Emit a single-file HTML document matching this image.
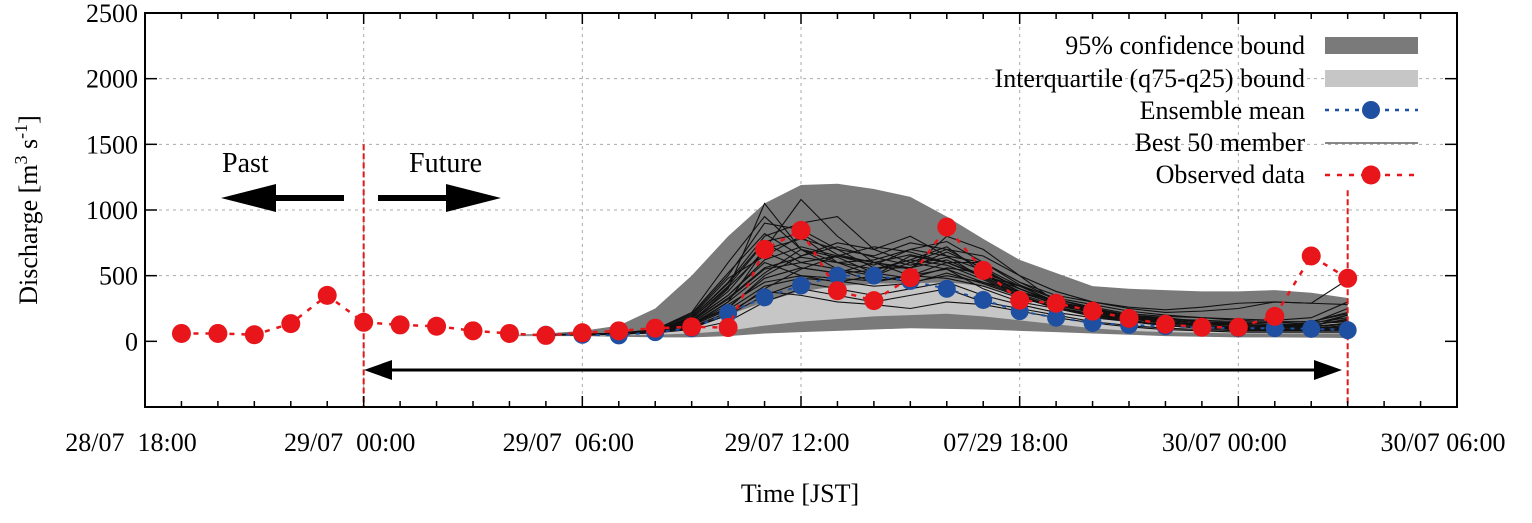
<!DOCTYPE html>
<html><head><meta charset="utf-8"><style>
body{margin:0;background:#fff;}
svg, text{font-family:"Liberation Serif","DejaVu Serif","Times New Roman",serif;}
</style></head><body>
<svg id="chart" width="1532" height="518" viewBox="0 0 1532 518"></svg>
<script>
const hours=[29,30,31,32,33,34,35,36,37,38,39,40,41,42,43,44,45,46,47,48,49,50,51];
const bandHours=[28,29,30,31,32,33,34,35,36,37,38,39,40,41,42,43,44,45,46,47,48,49,50,51];
const upper95=[50,60,80,120,250,500,800,1050,1190,1200,1160,1100,950,780,620,520,420,400,390,380,380,390,370,330];
const lower95=[40,40,40,35,30,30,40,60,70,80,90,100,95,90,80,70,60,50,40,35,30,30,28,25];
const upperIQ=[50,50,55,60,70,100,200,300,380,420,440,440,450,420,350,280,220,180,160,150,140,140,145,140];
const lowerIQ=[45,45,45,45,50,60,80,120,150,170,190,200,210,190,160,130,100,80,70,65,60,60,60,60];
const members=[
[50,55,60,80,150,400,1050,700,600,500,650,600,500,400,300,250,200,180,150,140,130,130,150],
[50,50,55,70,120,300,700,1080,800,600,500,550,450,350,250,200,170,150,130,120,110,120,130],
[50,50,60,90,200,500,900,850,700,650,750,700,550,400,300,220,180,150,120,110,100,100,110],
[50,52,58,75,130,250,500,650,750,700,800,650,600,450,350,300,250,220,230,250,300,290,470],
[48,50,55,65,100,200,400,550,650,600,550,800,700,500,300,250,180,140,120,100,90,90,100],
[50,55,60,80,160,350,600,500,450,500,600,550,400,300,250,200,150,130,110,100,100,110,200],
[50,50,55,70,110,200,350,450,400,350,400,450,350,280,220,180,150,120,100,90,80,90,90],
[50,52,55,65,90,150,300,400,350,300,350,400,300,250,200,150,120,100,90,80,80,80,80],
[50,50,60,85,180,450,800,900,950,700,600,700,650,500,380,300,260,240,260,290,300,290,280],
[50,55,62,90,220,600,950,700,550,450,500,600,600,450,320,260,210,190,180,170,160,180,300],
[48,50,55,70,140,320,550,600,550,500,450,500,450,380,300,240,200,170,150,130,120,130,200],
[50,50,58,72,120,280,450,500,480,460,500,480,420,330,260,210,170,140,120,110,100,110,130],
[50,52,60,80,170,420,750,600,650,720,680,600,500,420,330,280,230,200,180,160,150,150,210],
[50,50,55,68,110,220,380,350,300,280,250,300,280,230,180,140,110,90,80,70,70,70,70],
[50,53,60,82,190,480,650,800,600,550,620,720,520,380,280,230,190,160,140,130,120,140,250],
[50,51,57,74,150,350,620,720,650,580,700,650,480,360,270,220,180,160,140,120,110,120,170],
[50,52,58,78,160,380,700,780,700,560,560,680,560,420,300,240,190,160,140,125,115,125,160],
[50,50,56,70,125,260,480,560,520,540,620,580,470,350,260,200,160,130,110,95,90,95,110],
[50,54,61,85,210,520,820,650,720,640,580,640,540,400,290,230,180,150,130,120,110,110,140],
[50,50,57,76,140,330,560,640,600,620,700,760,600,430,320,250,200,170,150,140,130,140,180],
[50,52,59,79,170,410,680,560,520,600,560,620,500,380,280,220,170,140,120,110,100,100,120],
[50,50,56,72,130,300,520,700,640,520,480,560,520,420,300,230,190,170,160,150,140,150,220],
[50,51,58,80,180,440,760,820,660,600,660,600,490,370,290,230,190,160,140,120,110,110,130],
[50,50,55,68,120,240,420,480,460,420,440,520,440,340,250,190,150,120,100,90,85,85,90]
];
const meanHours=[29,30,31,32,33,34,35,36,37,38,39,40,41,42,43,44,45,46,47,48,49,50,51];
const meanVals=[50,50,45,70,100,215,335,425,500,500,460,400,315,230,180,140,125,115,105,100,100,95,85];
const obsHours=[19,20,21,22,23,24,25,26,27,28,29,30,31,32,33,34,35,36,37,38,39,40,41,42,43,44,45,46,47,48,49,50,51];
const obsVals=[60,60,50,135,350,145,125,115,80,60,45,65,80,100,110,105,700,845,385,310,485,870,540,313,290,230,175,130,107,107,190,650,480];
const yTicks=[0,500,1000,1500,2000,2500];
const xTickHours=[18,24,30,36,42,48,54];
const xTickLabels=["28/07  18:00","29/07  00:00","29/07  06:00","29/07 12:00","07/29 18:00","30/07 00:00","30/07 06:00"];

const L=145,R=1457,T=13,B=407,X0=18,X1=54,Y0=-500,Y1=2500;
const X=h=>L+(h-X0)/(X1-X0)*(R-L);
const Y=v=>B-(v-Y0)/(Y1-Y0)*(B-T);
const svg=document.getElementById('chart');
const NS='http://www.w3.org/2000/svg';
function mk(tag,attrs,parent){const e=document.createElementNS(NS,tag);for(const k in attrs)e.setAttribute(k,attrs[k]);(parent||svg).appendChild(e);return e;}

const grid=mk('g',{});


yTicks.forEach(v=>{if(v>0&&v<2500){mk('line',{x1:L,x2:R,y1:Y(v),y2:Y(v),stroke:'#aaa','stroke-width':1,'stroke-dasharray':'3,4'},grid);}});
xTickHours.forEach(h=>{if(h>X0&&h<X1){mk('line',{x1:X(h),x2:X(h),y1:T,y2:B,stroke:'#aaa','stroke-width':1,'stroke-dasharray':'3,4'},grid);}});

function band(up,lo,fill,name){
  let d='M'+bandHours.map((h,i)=>X(h)+','+Y(up[i])).join('L');
  for(let i=bandHours.length-1;i>=0;i--)d+='L'+X(bandHours[i])+','+Y(lo[i]);
  const p=mk('path',{d:d+'Z',fill:fill});
  
  
}
band(upper95,lower95,'#7a7a7a','confidence-95-band');
band(upperIQ,lowerIQ,'#c6c6c6','interquartile-band');

const mg=mk('g',{});


members.forEach(m=>{
  const p=mk('polyline',{points:hours.map((h,i)=>X(h)+','+Y(m[i])).join(' '),fill:'none',stroke:'#111','stroke-width':1.1},mg);
  
  
});

const v1=mk('line',{x1:X(24),x2:X(24),y1:Y(1500),y2:B,stroke:'#e01a1a','stroke-width':2,'stroke-dasharray':'6,3'});


const v2=mk('line',{x1:X(51),x2:X(51),y1:Y(1150),y2:B,stroke:'#e01a1a','stroke-width':2,'stroke-dasharray':'6,3'});



const mp=mk('polyline',{points:meanHours.map((h,i)=>X(h)+','+Y(meanVals[i])).join(' '),fill:'none',stroke:'#1f4fa0','stroke-width':2,'stroke-dasharray':'4,6'});


meanHours.forEach((h,i)=>{const c=mk('circle',{cx:X(h),cy:Y(meanVals[i]),r:9,fill:'#1f4fa0'});

});

const op=mk('polyline',{points:obsHours.map((h,i)=>X(h)+','+Y(obsVals[i])).join(' '),fill:'none',stroke:'#e8161b','stroke-width':2.5,'stroke-dasharray':'5,7'});


obsHours.forEach((h,i)=>{const c=mk('circle',{cx:X(h),cy:Y(obsVals[i]),r:9.5,fill:'#e8161b'});

});

const fr=mk('rect',{x:L,y:T,width:R-L,height:B-T,fill:'none',stroke:'#000','stroke-width':2});


for(let h=X0+1;h<X1;h++){const len=(h%6===0)?11:6;mk('line',{x1:X(h),x2:X(h),y1:T,y2:T+len,stroke:'#000','stroke-width':1.5});mk('line',{x1:X(h),x2:X(h),y1:B,y2:B-len,stroke:'#000','stroke-width':1.5});}
yTicks.forEach(v=>{mk('line',{x1:L,x2:L+12,y1:Y(v),y2:Y(v),stroke:'#000','stroke-width':1.5});mk('line',{x1:R,x2:R-12,y1:Y(v),y2:Y(v),stroke:'#000','stroke-width':1.5});
 const t=mk('text',{x:138,y:Y(v)+9,'text-anchor':'end','font-size':26,'font-family':'Liberation Serif, serif'});t.textContent=v;
 
 });
xTickHours.forEach((h,i)=>{const t=mk('text',{x:X(h)-14,y:451,'text-anchor':'middle','font-size':26,'font-family':'Liberation Serif, serif'});t.textContent=xTickLabels[i];
 t.style.whiteSpace='pre';
 
 });
</script>
<div style="position:absolute;left:0;top:0;width:1532px;height:518px;pointer-events:none;">
<svg width="1532" height="518" font-family="Liberation Serif, serif">
<text x="800" y="502" text-anchor="middle" font-size="26">Time [JST]</text>
<text transform="translate(37,210) rotate(-90)" text-anchor="middle" font-size="26">Discharge [m<tspan dy="-10" font-size="18">3</tspan><tspan dy="10"> s</tspan><tspan dy="-10" font-size="18">-1</tspan><tspan dy="10">]</tspan></text>
<g>
<text x="222" y="172" font-size="28">Past</text>
<polygon points="221,198 276,184 276,212" fill="#000"/><rect x="275" y="195" width="69" height="6" fill="#000"/>
</g>
<g>
<text x="409" y="172" font-size="28">Future</text>
<polygon points="501,198 446,184 446,212" fill="#000"/><rect x="378" y="195" width="70" height="6" fill="#000"/>
</g>
<g>
<line x1="385" y1="370" x2="1320" y2="370" stroke="#000" stroke-width="3"/>
<polygon points="364,370 392,360 392,380" fill="#000"/><polygon points="1342,370 1314,360 1314,380" fill="#000"/>
</g>
<g font-size="26">
<text x="1305" y="54" text-anchor="end">95%  confidence bound</text>
<rect x="1325" y="37" width="93" height="17" fill="#7a7a7a"/>
<text x="1305" y="87" text-anchor="end">Interquartile (q75-q25) bound</text>
<rect x="1325" y="70" width="93" height="17" fill="#c6c6c6"/>
<text x="1305" y="119" text-anchor="end">Ensemble mean</text>
<line x1="1325" y1="110" x2="1418" y2="110" stroke="#1f4fa0" stroke-width="2.5" stroke-dasharray="4,6"/><circle cx="1371" cy="110" r="9" fill="#1f4fa0"/>
<text x="1305" y="151" text-anchor="end">Best 50 member</text>
<line x1="1325" y1="143" x2="1418" y2="143" stroke="#111" stroke-width="1"/>
<text x="1305" y="183" text-anchor="end">Observed data</text>
<line x1="1325" y1="175" x2="1418" y2="175" stroke="#e8161b" stroke-width="2.5" stroke-dasharray="5,7"/><circle cx="1371" cy="175" r="9.5" fill="#e8161b"/>
</g>
</svg>
</div>
</body></html>
